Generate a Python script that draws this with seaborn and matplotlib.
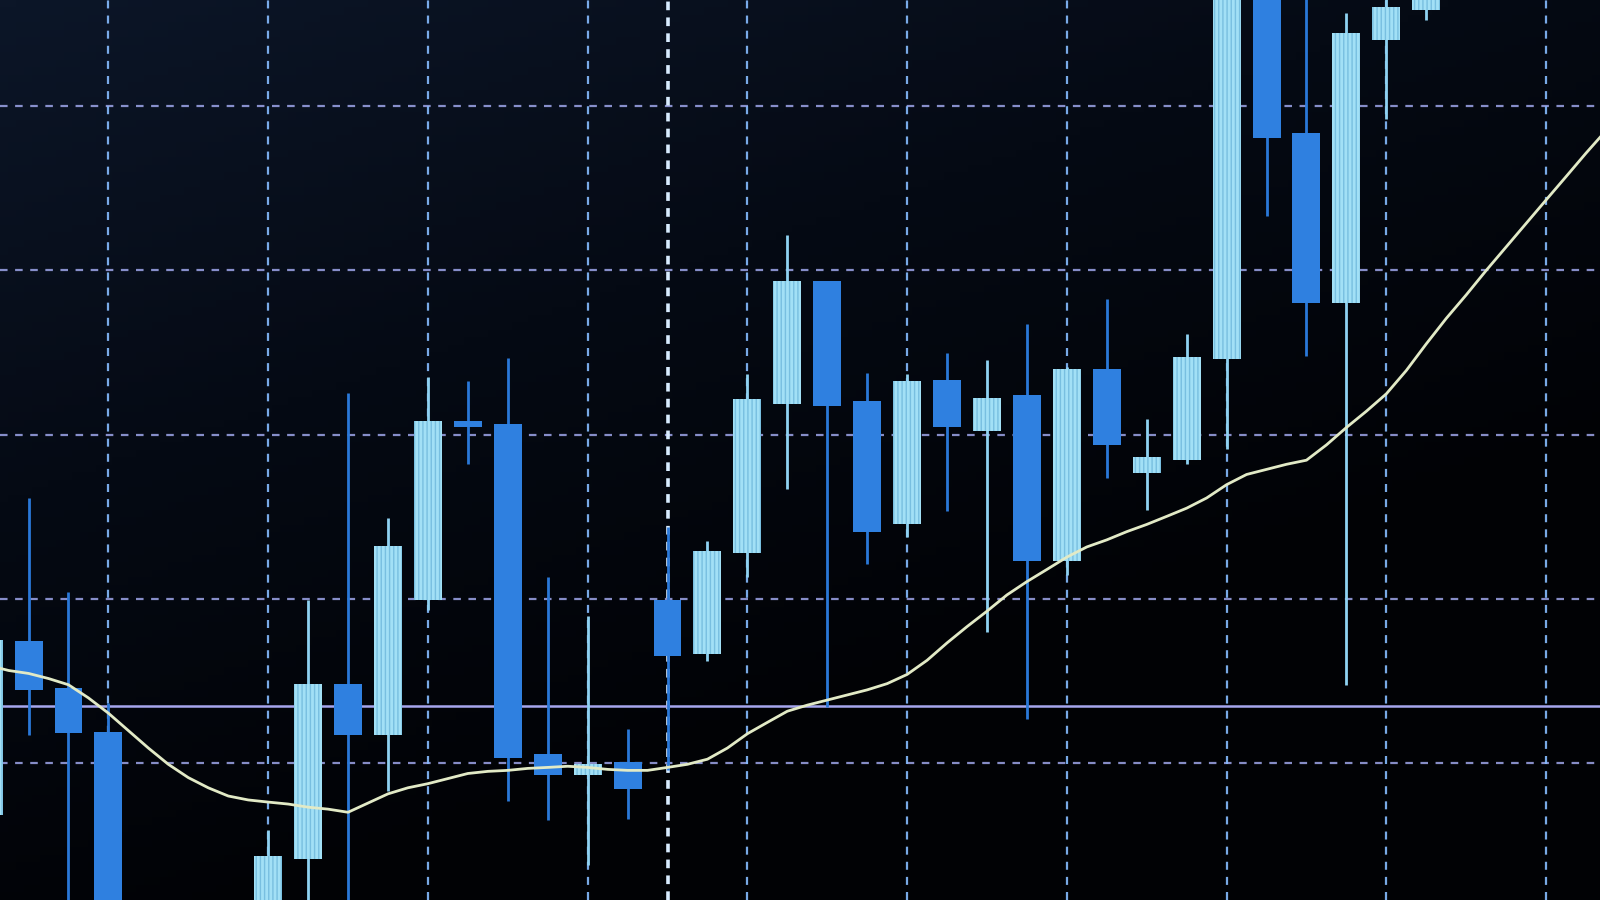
import numpy as np
import pandas as pd
import seaborn as sns
import matplotlib.pyplot as plt
from matplotlib.colors import LinearSegmentedColormap

# candle data, one row per bar (index -1 is cut at the left edge)
idx = list(range(-1, 36))
open_ = [96.83, 107.46, 104.60, 101.93, 88.5, 84.0, 86.5, 90.0, 94.16, 104.85,
         101.74, 109.94, 120.83, 120.68, 100.56, 99.29, 100.06, 109.94, 106.65, 112.80,
         121.86, 129.36, 122.05, 114.56, 123.33, 120.25, 122.42, 112.31, 123.98, 117.69,
         118.46, 124.60, 152.0, 138.34, 127.99, 144.03, 145.85]
high = [108.0, 116.15, 110.44, 103.67, 89.5, 88.0, 90.5, 95.96, 109.94, 122.55,
        114.91, 123.54, 123.29, 124.66, 111.37, 108.95, 102.06, 114.38, 113.54, 123.70,
        132.17, 129.36, 123.74, 123.67, 124.99, 124.55, 126.72, 124.12, 128.24, 120.93,
        126.13, 151.0, 153.0, 149.0, 145.69, 147.5, 149.0]
low = [95.5, 101.74, 90.0, 86.0, 83.5, 83.0, 85.5, 89.0, 90.5, 90.5,
       98.32, 109.32, 118.20, 97.70, 96.55, 93.79, 96.61, 99.57, 106.21, 111.37,
       116.68, 103.42, 112.13, 113.79, 115.36, 108.01, 102.67, 111.46, 117.39, 115.42,
       118.20, 119.13, 133.31, 124.81, 104.78, 139.22, 145.24]
close = [107.52, 104.47, 101.87, 88.0, 85.0, 87.0, 89.5, 94.35, 104.85, 101.74,
         113.23, 120.81, 120.47, 100.31, 99.29, 99.94, 98.41, 106.52, 112.92, 122.18,
         129.36, 121.74, 114.06, 123.26, 120.44, 122.26, 112.31, 123.98, 119.38, 118.62,
         124.75, 150.0, 138.08, 127.99, 144.47, 146.01, 148.0]

# moving average, read every half bar from -1 to 40
ma_idx = np.arange(-1, 40.5, 0.5)
ma = [105.96, 105.65, 105.47, 105.16, 104.78, 103.98, 103.05, 101.99, 100.93, 99.94,
      99.13, 98.51, 98.01, 97.77, 97.64, 97.52, 97.33, 97.21, 97.02, 97.58,
      98.14, 98.51, 98.76, 99.07, 99.38, 99.51, 99.57, 99.69, 99.75, 99.82,
      99.75, 99.63, 99.57, 99.57, 99.75, 99.94, 100.25, 100.93, 101.80, 102.49,
      103.17, 103.54, 103.85, 104.16, 104.47, 104.85, 105.41, 106.27, 107.33, 108.32,
      109.26, 110.25, 111.06, 111.80, 112.55, 113.17, 113.60, 114.10, 114.54, 115.03,
      115.53, 116.15, 116.96, 117.58, 117.89, 118.20, 118.45, 119.38, 120.44, 121.43,
      122.49, 123.91, 125.53, 127.08, 128.51, 130.00, 131.43, 132.86, 134.29, 135.71,
      137.14, 138.51, 139.88]

grid_y = [100, 110, 120, 130, 140]
grid_x = [2, 6, 10, 14, 18, 22, 26, 30, 34, 38]
cursor_x = 16
level = 103.48

df = pd.DataFrame({"i": idx, "open": open_, "high": high, "low": low, "close": close})
df["up"] = df["close"] >= df["open"]
df["bottom"] = df[["open", "close"]].min(axis=1)
df["height"] = (df["close"] - df["open"]).abs()

sns.set_theme(style="dark", rc={"axes.facecolor": "#02050a", "figure.facecolor": "#02050a"})
fig = plt.figure(figsize=(16, 9), dpi=100)
ax = fig.add_axes([0, 0, 1, 1])
x0, x1, y0, y1 = -0.715, 39.35, 91.68, 146.46

# dark screen with a faint blue glow top-left
gx, gy = np.meshgrid(np.linspace(0, 1, 200), np.linspace(0, 1, 120))
glow = np.clip(1 - (0.55 * gx + 0.9 * gy), 0, 1)
cmap = LinearSegmentedColormap.from_list("screen", ["#010205", "#050a14", "#0c1628"])
ax.imshow(glow, extent=[x0, x1, y0, y1], aspect="auto", cmap=cmap, zorder=0, origin="upper")
ax.set_xlim(x0, x1)
ax.set_ylim(y0, y1)

for y in grid_y:
    ax.axhline(y, color="#a8b0f8", lw=1.6, ls=(0, (3.4, 3.4)), alpha=0.8, zorder=1)
for x in grid_x:
    ax.axvline(x, color="#86bcff", lw=1.6, ls=(0, (3.6, 3.2)), alpha=0.9, zorder=1)
ax.axvline(cursor_x, color="#d8ecff", lw=2.6, ls=(0, (2.4, 2.0)), zorder=1)
ax.axhline(level, color="#a6a6ee", lw=1.8, zorder=1.5)

up = df[df["up"]]
dn = df[~df["up"]]
light, blue = "#a2e0f6", "#2f80e0"
ax.vlines(up["i"], up["low"], up["high"], colors="#8fd2f2", lw=2, zorder=2)
ax.vlines(dn["i"], dn["low"], dn["high"], colors="#2a78d8", lw=2, zorder=2)
ax.bar(up["i"], up["height"], bottom=up["bottom"], width=0.7, color=light,
       edgecolor="#78bfe0", linewidth=0, hatch="||||", zorder=3)
ax.bar(dn["i"], dn["height"], bottom=dn["bottom"], width=0.7, color=blue,
       edgecolor="#2a70c8", linewidth=0, zorder=3)

sns.lineplot(x=ma_idx, y=ma, ax=ax, color="#e2eac6", lw=2.0, zorder=4)

ax.grid(False)
ax.set_xticks([])
ax.set_yticks([])
for s in ax.spines.values():
    s.set_visible(False)

fig.savefig("out.png", dpi=100, facecolor=fig.get_facecolor())
